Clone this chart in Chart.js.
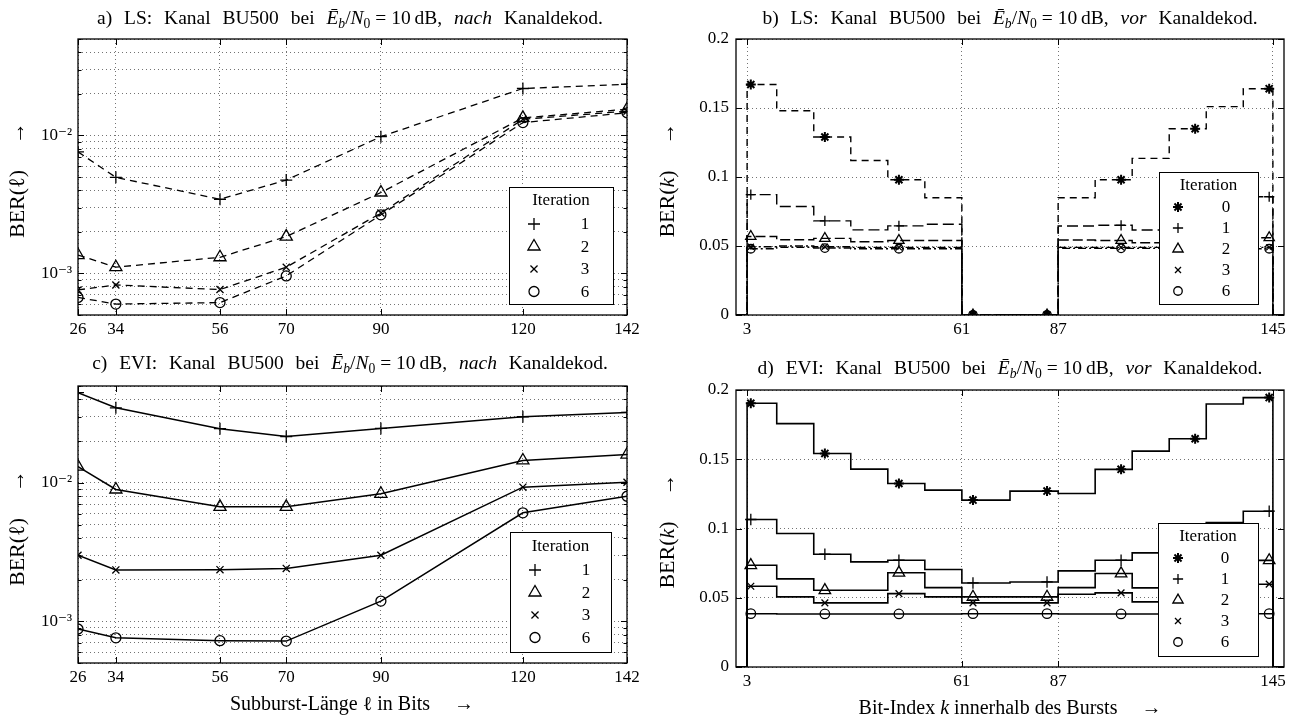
<!DOCTYPE html>
<html>
<head>
<meta charset="utf-8">
<script src="https://cdn.jsdelivr.net/npm/chart.js@4.4.0/dist/chart.umd.min.js"></script>
<style>
html,body{margin:0;padding:0;background:#fff;}
body{width:1298px;height:717px;position:relative;overflow:hidden;font-family:'Liberation Serif','DejaVu Serif',serif;color:#000;}
canvas{position:absolute;}
.t{position:absolute;white-space:nowrap;font-size:19.5px;transform:translate(-50%,-50%);word-spacing:7px;line-height:1;}
.m{word-spacing:0;}
.t sub{font-size:0.7em;vertical-align:-0.3em;line-height:0;}
.yt{position:absolute;white-space:nowrap;font-size:22px;transform:translate(-50%,-50%) rotate(-90deg);line-height:1;}
.xt{position:absolute;white-space:nowrap;font-size:20px;transform:translate(-50%,-50%);line-height:1;}
</style>
</head>
<body>
<canvas id="ca" width="649" height="345" style="left:0;top:0"></canvas>
<canvas id="cb" width="649" height="345" style="left:649px;top:0"></canvas>
<canvas id="cc" width="649" height="372" style="left:0;top:345px"></canvas>
<canvas id="cd" width="649" height="372" style="left:649px;top:345px"></canvas>

<div class="t" style="left:350px;top:18px">a)&nbsp;LS: Kanal BU500 bei <span class="m"><i>Ē</i><sub><i>b</i></sub>/<i>N</i><sub>0</sub> = 10&thinsp;dB,</span> <i>nach</i> Kanaldekod.</div>
<div class="t" style="left:1010px;top:18px">b)&nbsp;LS: Kanal BU500 bei <span class="m"><i>Ē</i><sub><i>b</i></sub>/<i>N</i><sub>0</sub> = 10&thinsp;dB,</span> <i>vor</i> Kanaldekod.</div>
<div class="t" style="left:350px;top:363px">c)&nbsp;EVI: Kanal BU500 bei <span class="m"><i>Ē</i><sub><i>b</i></sub>/<i>N</i><sub>0</sub> = 10&thinsp;dB,</span> <i>nach</i> Kanaldekod.</div>
<div class="t" style="left:1010px;top:368px">d)&nbsp;EVI: Kanal BU500 bei <span class="m"><i>Ē</i><sub><i>b</i></sub>/<i>N</i><sub>0</sub> = 10&thinsp;dB,</span> <i>vor</i> Kanaldekod.</div>

<div class="yt" style="left:17px;top:180px">BER(ℓ)<span style="padding-left:26px">→</span></div>
<div class="yt" style="left:667px;top:180px">BER(<i>k</i>)<span style="padding-left:26px">→</span></div>
<div class="yt" style="left:17px;top:528px">BER(ℓ)<span style="padding-left:26px">→</span></div>
<div class="yt" style="left:667px;top:531px">BER(<i>k</i>)<span style="padding-left:26px">→</span></div>

<div class="xt" style="left:352px;top:703px">Subburst-Länge ℓ in Bits<span style="padding-left:24px">→</span></div>
<div class="xt" style="left:1010px;top:707px">Bit-Index <i>k</i> innerhalb des Bursts<span style="padding-left:24px">→</span></div>

<script>
// ---------------- DATA ----------------
const lenCats = [26, 34, 56, 70, 90, 120, 142];
const itersNach = ['1', '2', '3', '6'];
const itersVor = ['0', '1', '2', '3', '6'];

// a) LS, nach Kanaldekodierung
const lsNach1 = [7.6e-3, 4.97e-3, 3.45e-3, 4.75e-3, 9.8e-3, 2.19e-2, 2.35e-2];
const lsNach2 = [1.36e-3, 1.11e-3, 1.31e-3, 1.85e-3, 3.86e-3, 1.34e-2, 1.55e-2];
const lsNach3 = [7.6e-4, 8.25e-4, 7.65e-4, 1.11e-3, 2.74e-3, 1.31e-2, 1.50e-2];
const lsNach6 = [6.7e-4, 6.0e-4, 6.15e-4, 9.6e-4, 2.66e-3, 1.24e-2, 1.46e-2];

// c) EVI, nach Kanaldekodierung
const eviNach1 = [4.48e-2, 3.48e-2, 2.46e-2, 2.16e-2, 2.47e-2, 3.0e-2, 3.22e-2];
const eviNach2 = [1.31e-2, 8.95e-3, 6.71e-3, 6.71e-3, 8.33e-3, 1.45e-2, 1.60e-2];
const eviNach3 = [3.0e-3, 2.35e-3, 2.36e-3, 2.41e-3, 3.0e-3, 9.3e-3, 1.01e-2];
const eviNach6 = [8.8e-4, 7.6e-4, 7.25e-4, 7.2e-4, 1.40e-3, 6.07e-3, 8.0e-3];

// b/d) BER per bit index (step segments start at stepEdges[i])
const bitAxis = [0, 148];
const stepEdges = [3, 11, 21, 31, 41, 51, 61, 74, 87, 97, 107, 117, 127, 137, 145];
const markerBits = [4, 24, 44, 64, 84, 104, 124, 144];

const lsVor0 = [0.167, 0.148, 0.129, 0.112, 0.098, 0.085, 0, 0, 0.085, 0.098, 0.1135, 0.135, 0.151, 0.164];
const lsVor1 = [0.0872, 0.0786, 0.0682, 0.0617, 0.0646, 0.0658, 0, 0, 0.0645, 0.065, 0.0616, 0.068, 0.078, 0.0857];
const lsVor2 = [0.0569, 0.0545, 0.0555, 0.0531, 0.054, 0.054, 0, 0, 0.0543, 0.054, 0.0524, 0.054, 0.055, 0.056];
const lsVor3 = [0.0495, 0.050, 0.0495, 0.049, 0.049, 0.049, 0, 0, 0.049, 0.049, 0.049, 0.049, 0.049, 0.049];
const lsVor6 = [0.048, 0.049, 0.0485, 0.048, 0.048, 0.048, 0, 0, 0.0483, 0.0483, 0.0483, 0.048, 0.048, 0.048];

const eviVor0 = [0.1904, 0.1757, 0.1542, 0.1429, 0.1325, 0.1277, 0.1205, 0.127, 0.1253, 0.1427, 0.1559, 0.1648, 0.1899, 0.1945];
const eviVor1 = [0.1065, 0.0964, 0.0814, 0.0759, 0.0771, 0.0704, 0.0607, 0.0614, 0.0694, 0.0771, 0.0824, 0.095, 0.1043, 0.1125];
const eviVor2 = [0.0735, 0.0636, 0.0554, 0.0554, 0.068, 0.0573, 0.0506, 0.0506, 0.0573, 0.0675, 0.0571, 0.0554, 0.0636, 0.077];
const eviVor3 = [0.0583, 0.0506, 0.0463, 0.0463, 0.053, 0.0506, 0.0463, 0.0463, 0.0525, 0.0535, 0.047, 0.0506, 0.0506, 0.0598];
const eviVor6 = [0.0385, 0.0383, 0.0383, 0.0383, 0.0383, 0.0383, 0.0385, 0.0385, 0.0383, 0.0383, 0.0383, 0.0383, 0.0383, 0.0385];

// tick values / labels
const logRange = [5e-4, 5e-2];
const logTicks = [5e-4, 6e-4, 7e-4, 8e-4, 9e-4, 1e-3, 2e-3, 3e-3, 4e-3, 5e-3, 6e-3, 7e-3, 8e-3, 9e-3, 1e-2, 2e-2, 3e-2, 4e-2, 5e-2];
const decadeLabels = {'-3': '10\u207B\u00B3', '-2': '10\u207B\u00B2'};
const vorYTicks = [0, 0.05, 0.1, 0.15, 0.2];
const vorYLabels = ['0', '0.05', '0.1', '0.15', '0.2'];
const bitTicks = [3, 61, 87, 145];

// ---------------- STYLE ----------------
const SERIF = "'Liberation Serif','DejaVu Serif',serif";
const CLEAR = 'rgba(0,0,0,0)';
const markStyle = {
  '0': {ps: 'star', r: 5, bw: 2, fixed: true},
  '1': {ps: 'cross', r: 6, bw: 1.3},
  '2': {ps: 'triangle', r: 7, bw: 1.3},
  '3': {ps: 'crossRot', r: 5, bw: 1.3},
  '6': {ps: 'circle', r: 5, bw: 1.3}
};
function markR(it, scale) { const st = markStyle[it]; return st.fixed ? st.r : st.r * scale; }
const vorDash = {'0': [7, 5], '1': [11, 5], '2': [10, 4], '3': [8, 3, 2, 3], '6': [8, 3, 2, 3]};

function nachDatasets(series, dash, lw, scale) {
  return series.map((vals, i) => {
    const it = itersNach[i], st = markStyle[it];
    return {
      label: it,
      data: lenCats.map((x, j) => ({x: x, y: vals[j]})),
      borderColor: '#000', borderWidth: lw, borderDash: dash, backgroundColor: CLEAR,
      pointStyle: st.ps, pointRadius: markR(it, scale), pointBorderWidth: st.bw,
      pointBorderColor: '#000', pointBackgroundColor: CLEAR, tension: 0, fill: false
    };
  });
}

function stepPoints(vals) {
  const pts = [{x: bitAxis[0], y: 0}];
  vals.forEach((v, i) => pts.push({x: stepEdges[i], y: v}));
  pts.push({x: stepEdges[stepEdges.length - 1], y: 0});
  pts.push({x: bitAxis[1], y: 0});
  return pts;
}
function markerPoints(vals) {
  return markerBits.map(b => {
    let i = 0;
    while (i < vals.length - 1 && stepEdges[i + 1] <= b) i++;
    return {x: b, y: vals[i]};
  });
}
function vorDatasets(series, dashed, lw, scale) {
  const out = [];
  series.forEach((vals, i) => {
    const it = itersVor[i], st = markStyle[it];
    out.push({
      label: it + ' line', data: stepPoints(vals), stepped: true,
      borderColor: '#000', borderWidth: lw, borderDash: dashed ? vorDash[it] : [],
      pointRadius: 0, fill: false, backgroundColor: CLEAR
    });
    out.push({
      label: it, data: markerPoints(vals), showLine: false,
      pointStyle: st.ps, pointRadius: markR(it, scale), pointBorderWidth: st.bw,
      pointBorderColor: '#000', pointBackgroundColor: CLEAR, borderColor: '#000', backgroundColor: CLEAR
    });
  });
  return out;
}

// ---------------- PLUGIN: inward ticks, frame, boxed legend ----------------
const frameLegend = {
  id: 'frameLegend',
  afterDatasetsDraw(chart, args, opts) {
    const ctx = chart.ctx, ca = chart.chartArea;
    const xs = chart.scales.x, ys = chart.scales.y;
    ctx.save();
    ctx.setLineDash([]);
    ctx.strokeStyle = '#000';
    ctx.lineWidth = 1;
    ctx.beginPath();
    xs.ticks.forEach(t => {
      const px = Math.round(xs.getPixelForValue(t.value)) + 0.5;
      ctx.moveTo(px, ca.bottom); ctx.lineTo(px, ca.bottom - 6);
      ctx.moveTo(px, ca.top); ctx.lineTo(px, ca.top + 6);
    });
    ys.ticks.forEach(t => {
      const py = Math.round(ys.getPixelForValue(t.value)) + 0.5;
      const L = (t.label !== '' && t.label !== undefined) ? 6 : 3.5;
      ctx.moveTo(ca.left, py); ctx.lineTo(ca.left + L, py);
      ctx.moveTo(ca.right, py); ctx.lineTo(ca.right - L, py);
    });
    ctx.stroke();
    ctx.lineWidth = 1.3;
    ctx.strokeRect(ca.left, ca.top, ca.right - ca.left, ca.bottom - ca.top);

    const L = opts.legend;
    if (L) {
      const x0 = Math.round(ca.right - L.rOff - L.w), y0 = Math.round(ca.bottom - L.bOff - L.h);
      ctx.fillStyle = '#fff';
      ctx.fillRect(x0, y0, L.w, L.h);
      ctx.lineWidth = 1;
      ctx.strokeRect(x0 + 0.5, y0 + 0.5, L.w, L.h);
      ctx.font = '17px ' + SERIF;
      ctx.textAlign = 'center';
      ctx.textBaseline = 'middle';
      ctx.fillStyle = '#000';
      ctx.fillText(L.title, x0 + L.w / 2, y0 + L.titleY);
      L.items.forEach((it, i) => {
        const y = y0 + L.row0 + i * L.rowH;
        const st = markStyle[it];
        ctx.fillStyle = CLEAR;
        ctx.strokeStyle = '#000';
        ctx.lineWidth = st.bw;
        Chart.helpers.drawPoint(ctx, {pointStyle: st.ps, radius: markR(it, L.scale), borderWidth: st.bw, rotation: 0}, x0 + L.mx, y);
        ctx.fillStyle = '#000';
        ctx.fillText(it, x0 + L.lx, y + 1);
      });
    }
    ctx.restore();
  }
};

// ---------------- CHART FACTORY ----------------
function makeChart(id, cfg) {
  const tickFont = {family: SERIF, size: 17};
  const gridOpts = {color: 'rgba(0,0,0,0.55)', lineWidth: 1, drawTicks: false};
  const yScale = cfg.log ? {
    type: 'logarithmic', min: logRange[0], max: logRange[1],
    afterBuildTicks: s => { s.ticks = logTicks.map(v => ({value: v})); },
    ticks: {
      autoSkip: false, font: tickFont, color: '#000', padding: 6,
      callback: v => {
        const e = Math.log10(v), r = Math.round(e);
        return (Math.abs(e - r) < 1e-9 && decadeLabels[String(r)]) ? decadeLabels[String(r)] : '';
      }
    }
  } : {
    type: 'linear', min: vorYTicks[0], max: vorYTicks[vorYTicks.length - 1],
    afterBuildTicks: s => { s.ticks = vorYTicks.map(v => ({value: v})); },
    ticks: {autoSkip: false, font: tickFont, color: '#000', padding: 7,
      callback: (v, i) => vorYLabels[i]}
  };
  yScale.grid = gridOpts;
  yScale.border = {display: false, dash: [1, 3]};
  yScale.afterFit = s => { s.width = cfg.yW; };

  const xVals = cfg.log ? lenCats : bitTicks;
  const xScale = {
    type: 'linear',
    min: cfg.log ? lenCats[0] : bitAxis[0],
    max: cfg.log ? lenCats[lenCats.length - 1] : bitAxis[1],
    afterBuildTicks: s => { s.ticks = xVals.map(v => ({value: v})); },
    ticks: {autoSkip: false, maxRotation: 0, font: tickFont, color: '#000', padding: 4,
      callback: v => String(v)},
    grid: gridOpts,
    border: {display: false, dash: [1, 3]},
    afterFit: s => { s.height = 28; }
  };

  return new Chart(document.getElementById(id), {
    type: 'line',
    data: {datasets: cfg.datasets},
    options: {
      responsive: false, animation: false, devicePixelRatio: 1,
      events: [],
      layout: {padding: cfg.pad},
      scales: {x: xScale, y: yScale},
      plugins: {legend: {display: false}, tooltip: {enabled: false}, title: {display: false},
        frameLegend: {legend: cfg.legend}}
    },
    plugins: [frameLegend]
  });
}

// a)
makeChart('ca', {
  log: true, yW: 78, pad: {left: 0, top: 39, right: 22, bottom: 2},
  datasets: nachDatasets([lsNach1, lsNach2, lsNach3, lsNach6], [7, 5], 1.3, 1),
  legend: {title: 'Iteration', items: itersNach, w: 104, h: 117, rOff: 14, bOff: 11,
    titleY: 14, row0: 37, rowH: 22.5, mx: 25, lx: 76, scale: 1}
});
// b)
makeChart('cb', {
  log: false, yW: 87, pad: {left: 0, top: 39, right: 14, bottom: 2},
  datasets: vorDatasets([lsVor0, lsVor1, lsVor2, lsVor3, lsVor6], true, 1.4, 0.85),
  legend: {title: 'Iteration', items: itersVor, w: 99, h: 132, rOff: 26, bOff: 11,
    titleY: 14, row0: 35, rowH: 21, mx: 19, lx: 67, scale: 0.85}
});
// c)
makeChart('cc', {
  log: true, yW: 78, pad: {left: 0, top: 41, right: 22, bottom: 26},
  datasets: nachDatasets([eviNach1, eviNach2, eviNach3, eviNach6], [], 1.5, 1),
  legend: {title: 'Iteration', items: itersNach, w: 101, h: 120, rOff: 16, bOff: 11,
    titleY: 15, row0: 38, rowH: 22.5, mx: 25, lx: 76, scale: 1}
});
// d)
makeChart('cd', {
  log: false, yW: 87, pad: {left: 0, top: 45, right: 14, bottom: 22},
  datasets: vorDatasets([eviVor0, eviVor1, eviVor2, eviVor3, eviVor6], false, 1.6, 0.95),
  legend: {title: 'Iteration', items: itersVor, w: 100, h: 133, rOff: 26, bOff: 11,
    titleY: 14, row0: 35, rowH: 21, mx: 20, lx: 67, scale: 0.85}
});
</script>
</body>
</html>
